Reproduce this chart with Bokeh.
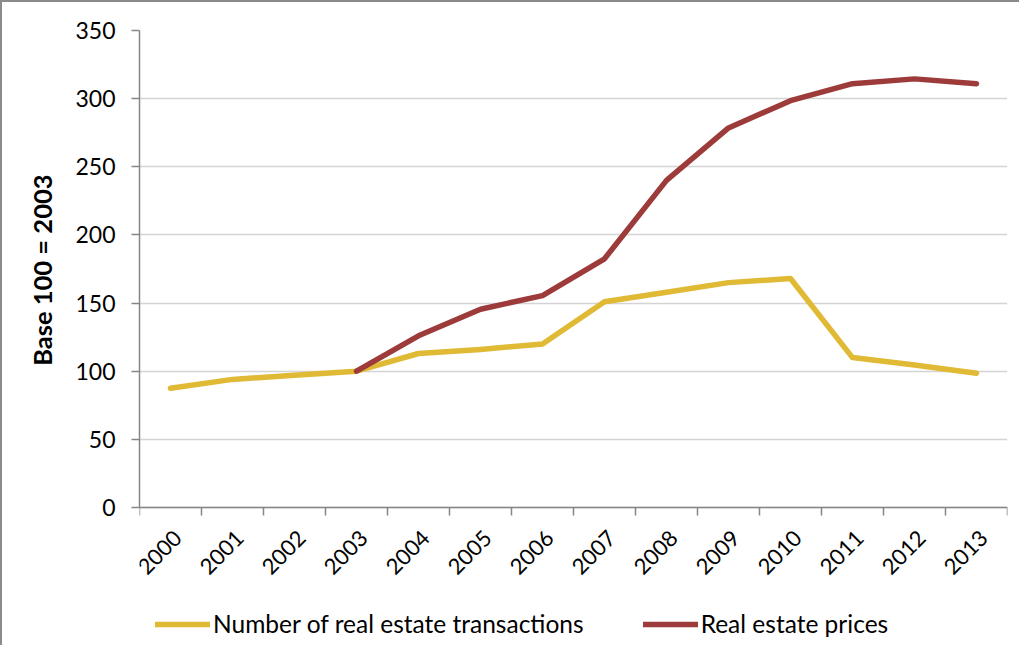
import math
from bokeh.plotting import figure
from bokeh.models import (FixedTicker, Range1d, Legend, LegendItem, ColumnDataSource,
                          Title, NumeralTickFormatter)
from bokeh.embed import file_html
from bokeh.resources import INLINE

# ---- data ----
years = [2000, 2001, 2002, 2003, 2004, 2005, 2006, 2007, 2008, 2009, 2010, 2011, 2012, 2013]
transactions = [87.5, 94, 97, 100, 113, 116, 120, 151, 158, 165, 168, 110, 104.5, 98.5]
price_years = [2003, 2004, 2005, 2006, 2007, 2008, 2009, 2010, 2011, 2012, 2013]
prices = [100, 126, 145.5, 155.5, 182.5, 240, 278.5, 298.5, 311, 314.5, 311]
y_ticks = [0, 50, 100, 150, 200, 250, 300, 350]
series_names = ["Number of real estate transactions", "Real estate prices"]
y_label = "Base 100 = 2003"

YELLOW = "#E0B935"
RED = "#9C3B3A"
FONT = "Lato"

# layout (pixels): plotting area for 0..350 is 477 px tall; the frame is
# extended downward so that the axis labels and legend sit inside it.
PLOT_H = 477
FRAME_H = 615
y_start = -y_ticks[-1] * (FRAME_H - PLOT_H) / PLOT_H
LABEL_SHIFT = 0.12  # small shift of the year labels, in category widths

p = figure(
    output_backend="svg", toolbar_location=None,
    frame_width=868, frame_height=FRAME_H,
    min_border_left=137, min_border_top=28, min_border_right=12, min_border_bottom=0,
    x_range=Range1d(years[0] - 0.5, years[-1] + 0.5),
    y_range=Range1d(y_start, y_ticks[-1]),
)
p.styles = {"border-left": "2px solid #8A8A8A", "border-top": "2px solid #8A8A8A"}
p.outline_line_color = None
p.background_fill_color = "white"
p.border_fill_color = "white"

# x axis drawn at y = 0: labels at category centres, ticks at boundaries
boundaries = [y - 0.5 for y in years] + [years[-1] + 0.5]
p.xaxis.fixed_location = 0
p.xaxis.ticker = FixedTicker(ticks=[y + LABEL_SHIFT for y in years], minor_ticks=boundaries)
p.xaxis.formatter = NumeralTickFormatter(format="0")
p.xaxis.major_tick_out = 0
p.xaxis.major_tick_in = 0
p.xaxis.minor_tick_out = 8
p.xaxis.minor_tick_in = 0
p.xaxis.minor_tick_line_color = "#868686"
p.xaxis.minor_tick_line_width = 1.5
p.xaxis.axis_line_color = "#868686"
p.xaxis.axis_line_width = 1.5
p.xaxis.major_label_orientation = math.pi / 4
p.xaxis.major_label_text_font = FONT
p.xaxis.major_label_text_font_size = "22px"
p.xaxis.major_label_text_color = "black"
p.xaxis.major_label_standoff = 19
p.xgrid.grid_line_color = None

# y axis
p.yaxis.bounds = (y_ticks[0], y_ticks[-1])
p.yaxis.ticker = FixedTicker(ticks=y_ticks)
p.yaxis.major_tick_out = 8
p.yaxis.major_tick_in = 0
p.yaxis.minor_tick_line_color = None
p.yaxis.major_tick_line_color = "#868686"
p.yaxis.major_tick_line_width = 1.5
p.yaxis.axis_line_color = "#868686"
p.yaxis.axis_line_width = 1.5
p.yaxis.major_label_text_font = FONT
p.yaxis.major_label_text_font_size = "23px"
p.yaxis.major_label_text_color = "black"
p.yaxis.major_label_standoff = 16
p.ygrid.grid_line_color = "#D4D4D4"
p.ygrid.grid_line_width = 1.5

# y axis title, placed beside the 0..350 part of the axis
ytitle = Title(text=y_label, align="right", vertical_align="bottom",
               offset=144, standoff=32,
               text_font=FONT, text_font_size="25.5px", text_font_style="bold",
               text_color="black")
p.add_layout(ytitle, "left")

src_t = ColumnDataSource(dict(x=years, y=transactions))
src_p = ColumnDataSource(dict(x=price_years, y=prices))
r1 = p.line("x", "y", source=src_t, line_color=YELLOW, line_width=5.5,
            line_cap="round", line_join="round")
r2 = p.line("x", "y", source=src_p, line_color=RED, line_width=5.5,
            line_cap="round", line_join="round")

legend = Legend(
    items=[LegendItem(label=series_names[0], renderers=[r1]),
           LegendItem(label=series_names[1], renderers=[r2])],
    orientation="horizontal",
    location=(16, 7),
    padding=0, margin=0, spacing=59,
    glyph_width=55, glyph_height=26, label_height=26,
    label_standoff=3,
    label_text_font=FONT, label_text_font_size="24.5px", label_text_color="black",
    border_line_color=None, background_fill_alpha=0,
)
p.add_layout(legend, "center")

open("out.html", "w").write(file_html(p, INLINE))
